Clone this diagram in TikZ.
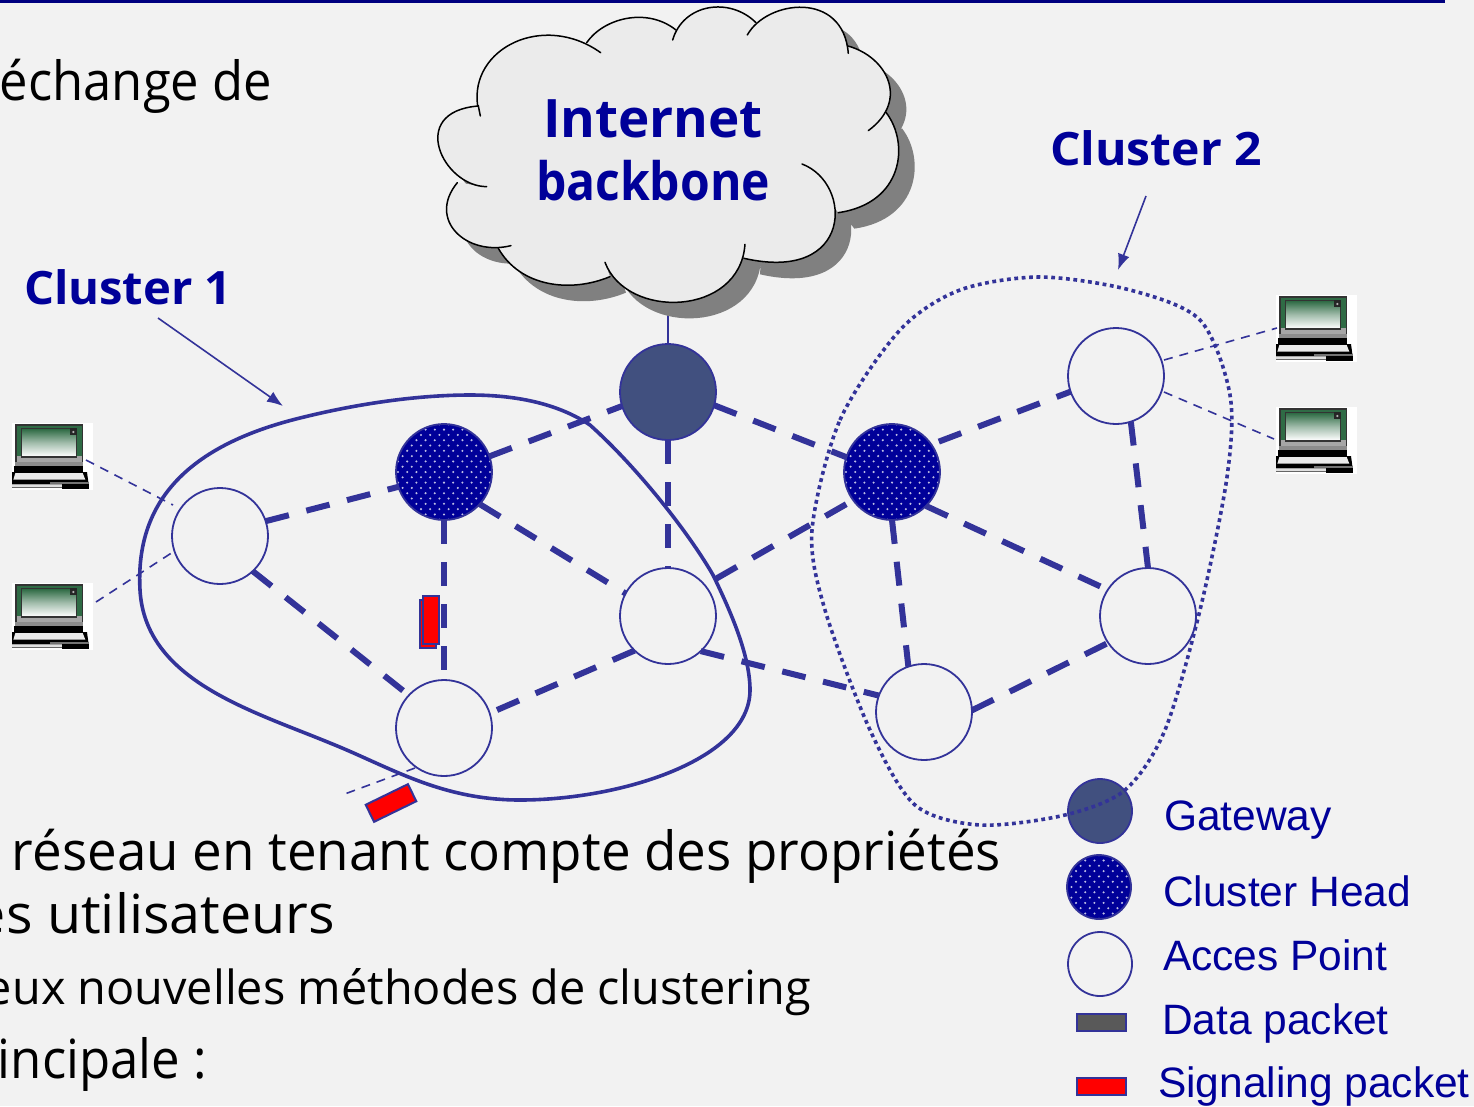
\documentclass[tikz,border=0pt]{standalone}
\usepackage{graphicx}
\usepackage{fontspec}
\setmainfont{Open Sans}
\newfontfamily\arialfont{Liberation Sans}
\usetikzlibrary{arrows.meta}
\definecolor{bgc}{HTML}{F2F2F2}
\definecolor{linec}{HTML}{333399}
\definecolor{textc}{HTML}{000099}
\definecolor{gwc}{HTML}{41507F}
\definecolor{topc}{HTML}{000080}
\definecolor{cloudc}{HTML}{EBEBEB}
\definecolor{shadowc}{HTML}{808080}
\definecolor{scrc}{HTML}{2F6B45}
\tikzset{
  x=1pt,y=-1pt,
  station/.style={circle,minimum size=96pt,inner sep=0pt,outer sep=0pt,draw=linec,line width=1.8pt},
  apnode/.style={station},
  gwnode/.style={station,fill=gwc},
  chnode/.style={station,fill=textc,path picture={
    \begin{scope}[shift={(path picture bounding box.center)}]
      \foreach \r in {-9,...,9}{
        \pgfmathsetmacro{\off}{mod(abs(\r),2)*4.6}
        \foreach \c in {-6,...,5}{
          \fill[white!75!textc] ({\c*9.2+\off},{\r*5.3}) circle (1.15pt);
        }
      }
    \end{scope}}},
  link/.style={draw=linec,line width=6pt,dash pattern=on 24pt off 18pt},
  thinlink/.style={draw=linec,line width=1.6pt,dash pattern=on 9pt off 7pt},
  solidthin/.style={draw=linec,line width=1.6pt},
  pointer/.style={draw=linec,line width=1.6pt,-{Latex[length=16pt,width=12pt]}},
  hull/.style={draw=linec,line width=3.6pt},
  dothull/.style={draw=linec,line width=3.6pt,dash pattern=on 3.8pt off 3.6pt},
  sigpkt/.style={rectangle,draw=linec,fill=red,line width=2pt,inner sep=0pt,outer sep=0pt},
  datapkt/.style={rectangle,draw=linec,fill=black!65,line width=2pt,inner sep=0pt,outer sep=0pt,minimum width=49pt,minimum height=17pt},
  lapbox/.style={rectangle,fill=white,inner sep=0pt,outer sep=0pt,minimum width=81pt,minimum height=67pt,anchor=north west},
  labeltxt/.style={anchor=base west,inner sep=0pt,outer sep=0pt},
  legendtxt/.style={labeltxt,text=textc,font=\arialfont\fontsize{42.5}{48}\selectfont},
  clusterhead/.style={labeltxt,text=textc,font=\bfseries\fontsize{46}{52}\selectfont},
  cloudhead/.style={labeltxt,text=textc,font=\bfseries\fontsize{53}{60}\selectfont},
  bodytxt/.style={labeltxt,text=black},
}
\newcommand{\fitw}[2]{\resizebox{#1pt}{\height}{#2}}
\newcommand{\lobeA}{(143,318) .. controls (118,145) and (340,35) .. (512,158)}
\newcommand{\lobeB}{(470,128) .. controls (520,55) and (650,20) .. (738,90)}
\newcommand{\lobeC}{(728,120) .. controls (760,10) and (900,-10) .. (978,68)}
\newcommand{\lobeD}{(952,105) .. controls (1010,0) and (1240,-30) .. (1255,160)}
\newcommand{\lobeE}{(1254,138) .. controls (1370,170) and (1440,300) .. (1315,392)}
\newcommand{\lobeF}{(1368,337) .. controls (1440,430) and (1420,610) .. (1225,638)}
\newcommand{\lobeG}{(1116,492) .. controls (1270,550) and (1270,850) .. (942,775)}
\newcommand{\lobeH}{(945,733) .. controls (930,950) and (590,960) .. (525,787)}
\newcommand{\lobeI}{(540,830) .. controls (420,880) and (270,860) .. (205,745)}
\newcommand{\lobeJ}{(243,737) .. controls (110,770) and (-10,660) .. (82,548)}
\newcommand{\lobeK}{(170,560) .. controls (40,560) and (-70,335) .. (145,318)}
\newcommand{\cloudfill}[1]{%
  \fill[#1] \lobeA -- \lobeB -- \lobeC -- \lobeD -- \lobeE -- \lobeF -- \lobeG -- \lobeH -- \lobeI -- \lobeJ -- \lobeK -- cycle;
}
\newcommand{\lapart}[1]{%
  \begin{scope}[shift={(#1.north west)},x=0.3333pt,y=-0.3333pt]
    \fill[black!80] (10,4) rectangle (214,122);
    \fill[scrc] (14,8) rectangle (210,118);
    \fill[black!35] (14,100) rectangle (210,118);
    \shade[top color=scrc,bottom color=white,middle color=white!55!scrc] (30,18) rectangle (192,100);
    \draw[black!80,line width=1.6pt] (28,16) rectangle (194,102);
    \fill[black!85] (175,16) rectangle (194,36);
    \fill[white!70!black] (184,27) circle (1.2pt);
    \fill[black!45] (10,118) rectangle (214,128);
    \fill[black] (6,128) rectangle (214,147);
    \fill[black] (0,147) -- (225,147) -- (230,184) -- (0,184) -- cycle;
    \fill[white!92!black] (10,150) -- (212,150) -- (220,170) -- (4,170) -- cycle;
    \fill[black!55] (115,176) rectangle (232,184);
    \fill[white!88!black] (0,186) rectangle (150,191);
    \fill[black!60] (0,191) rectangle (150,196);
    \fill[black] (150,184) rectangle (232,198);
  \end{scope}}
\begin{document}
\begin{tikzpicture}
\useasboundingbox (0,0) rectangle (1474,1106);
\fill[bgc] (0,0) rectangle (1474,1106);
\fill[topc] (0,0) rectangle (1445,3);

% anchors for free ends
\coordinate (cloudfoot) at (668,300);
\coordinate (c1tip) at (283,406);
\coordinate (c1tail) at (158,318);
\coordinate (c2tip) at (1118,270);
\coordinate (c2tail) at (1146,196);

% body text
\node[bodytxt] (t1) at (0,100) {\fontsize{54}{60}\selectfont\fitw{272}{échange de}};
\node[bodytxt] (t2) at (12,870) {\fontsize{54}{60}\selectfont\fitw{989}{réseau en tenant compte des propriétés}};
\node[bodytxt] (t3) at (-25,933) {\fontsize{54}{60}\selectfont\fitw{360}{es utilisateurs}};
\node[bodytxt] (t4) at (-14,1004) {\fontsize{47}{52}\selectfont\fitw{825}{eux nouvelles méthodes de clustering}};
\node[bodytxt] (t5) at (-2,1078) {\fontsize{54}{60}\selectfont\fitw{209}{incipale :}};

% gateway up-link and cloud
\draw[solidthin] (cloudfoot) -- (668,344);
\begin{scope}[shift={(446pt,-16pt)},x=0.3333pt,y=-0.3333pt]
  \cloudfill{shadowc}
\end{scope}
\begin{scope}[shift={(430pt,0pt)},x=0.3333pt,y=-0.3333pt]
  \cloudfill{cloudc}
  \begin{scope}[draw=black,line width=1.5pt,line cap=round]
  \draw \lobeA;
  \draw \lobeB;
  \draw \lobeC;
  \draw \lobeD;
  \draw \lobeE;
  \draw \lobeF;
  \draw \lobeG;
  \draw \lobeH;
  \draw \lobeI;
  \draw \lobeJ;
  \draw \lobeK -- (151,348);
  \end{scope}
\end{scope}
\node[cloudhead] (inet) at (543,137) {\fitw{220}{Internet}};
\node[cloudhead] (bbone) at (536,200) {\fitw{234}{backbone}};

% cluster labels and pointers
\node[clusterhead] (cl1) at (24,304) {\fitw{208}{Cluster 1}};
\node[clusterhead] (cl2) at (1050,165) {\fitw{212}{Cluster 2}};
\draw[pointer] (c1tail) -- (c1tip);
\draw[pointer] (c2tail) -- (c2tip);

% stations
\node[gwnode] (gw) at (668,392) {};
\node[chnode] (ch1) at (444,472) {};
\node[chnode] (ch2) at (892,472) {};
\node[apnode] (ap1) at (220,536) {};
\node[apnode] (ap2) at (668,616) {};
\node[apnode] (ap3) at (444,728) {};
\node[apnode] (ap4) at (1116,376) {};
\node[apnode] (ap5) at (1148,616) {};
\node[apnode] (ap6) at (924,712) {};

% backbone links
\draw[link] (ch1.19) -- (gw.197);
\draw[link] (gw.-16) -- (ch2.162);
\draw[link] (gw.south) -- (ap2.north);
\draw[link] (ap1.18) -- (ch1.198);
\draw[link] (ch1.-42) -- (ap2.152);
\draw[link] (ch1.south) -- (ap3.north);
\draw[link] (ap1.-47) -- (ap3.137);
\draw[link,shorten <=8pt] (ap3.18) -- (ap2.226);
\draw[link,shorten <=13pt] (ap2.40) -- (ch2.216);
\draw[link] (ap2.-47) -- (ap6.160);
\draw[link] (ch2.south) -- (ap6.109);
\draw[link] (ch2.-45) -- (ap5.147);
\draw[link,shorten <=8pt] (ch2.35) -- (ap4.199);
\draw[link] (ap4.-72) -- (ap5.north);
\draw[link] (ap6.2) -- (ap5.214);

% cluster hulls
\draw[hull] (140,590) .. controls (135,500) and (190,445) .. (300,418)
  .. controls (360,403) and (420,395) .. (470,395)
  .. controls (520,395) and (560,405) .. (590,425)
  .. controls (640,470) and (690,535) .. (713,575)
  .. controls (730,610) and (750,655) .. (750,690)
  .. controls (750,760) and (620,800) .. (520,800)
  .. controls (440,800) and (390,767) .. (330,743)
  .. controls (250,710) and (145,680) .. (140,590) -- cycle;

% laptops
\node[lapbox] (lap1) at (12,423) {};
\node[lapbox] (lap2) at (12,583) {};
\node[lapbox] (lap3) at (1276,295) {};
\node[lapbox] (lap4) at (1276,407) {};
\lapart{lap1}\lapart{lap2}\lapart{lap3}\lapart{lap4}
\coordinate (p1) at (86,460);
\coordinate (q1) at (173,505);
\coordinate (p2) at (96,602);
\coordinate (q2) at (173,552);
\coordinate (p3) at (342,795);
\coordinate (q3) at (415,768);
\coordinate (p4) at (1277,328);
\coordinate (q4) at (1164,360);
\coordinate (p5) at (1274,439);
\coordinate (q5) at (1164,392);
\draw[thinlink] (p1) -- (q1);
\draw[thinlink] (p2) -- (q2);
\draw[thinlink] (q3) -- (p3);
\draw[thinlink] (q4) -- (p4);
\draw[thinlink] (q5) -- (p5);

% packets
\node[sigpkt,minimum width=16pt,minimum height=48pt] (pk0) at (427.5,623.5) {};
\node[sigpkt,minimum width=16pt,minimum height=48pt] (pk1) at (430.5,620) {};
\node[sigpkt,minimum width=47pt,minimum height=19pt,rotate=26] (pk2) at (391,803) {};

% legend
\node[gwnode,minimum size=64pt] (lg1) at (1100,811) {};
\node[chnode,minimum size=64pt] (lg2) at (1099,887) {};
\node[apnode,minimum size=64pt] (lg3) at (1100,964) {};
\node[datapkt] (lg4) at (1101.5,1022.5) {};
\node[sigpkt,minimum width=49pt,minimum height=17pt] (lg5) at (1101.5,1086.5) {};
\node[legendtxt] at (1164,830) {Gateway};
\node[legendtxt] at (1163,906) {Cluster Head};
\node[legendtxt] at (1163,970) {Acces Point};
\node[legendtxt] at (1162,1034) {Data packet};
\node[legendtxt] at (1158,1097) {Signaling packet};

% dotted hull over the legend
\draw[dothull] plot[smooth cycle] coordinates {(812,530) (840,420) (900,330) (960,290) (1040,277) (1130,290) (1200,320) (1230,395) (1227,477) (1200,610) (1165,730) (1125,790) (1065,815) (980,825) (915,805) (870,730) (825,610)};
\end{tikzpicture}
\end{document}
